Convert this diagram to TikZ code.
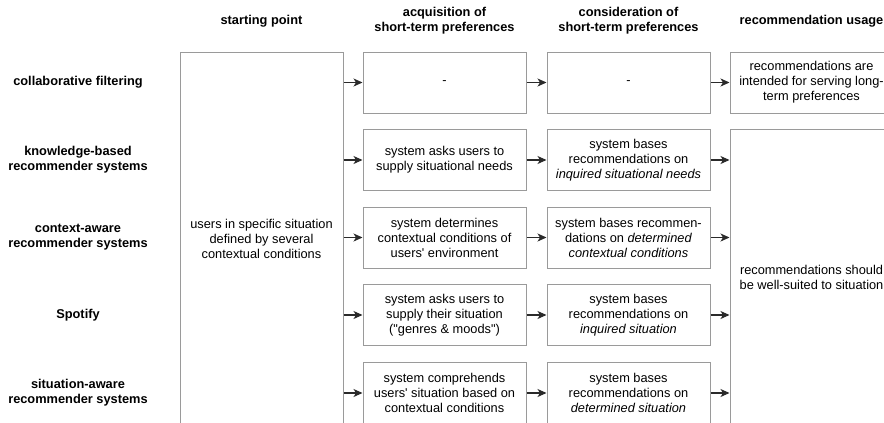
\documentclass[tikz,border=0pt]{standalone}
\usepackage{fontspec}
\setmainfont{Liberation Sans}
\usetikzlibrary{arrows.meta}
\definecolor{boxgray}{HTML}{9A9A9A}
\definecolor{arrgray}{HTML}{2A2A2A}
\newcommand{\ap}{\textquotesingle}
\begin{document}
\begin{tikzpicture}[x=1pt,y=-1pt,
  font=\fontsize{12.8}{15}\selectfont,
  box/.style={draw=boxgray, line width=1pt, minimum width=163pt, minimum height=61pt, align=center, inner sep=0pt},
  arr/.style={draw=arrgray, line width=1.1pt, -{Stealth[length=9pt,width=8pt,inset=2.5pt]}},
  hdr/.style={font=\fontsize{12.8}{15}\selectfont\bfseries, align=center, inner sep=0pt}]
\useasboundingbox (0,0) rectangle (884,423);
\clip (0,0) rectangle (884,423);
% headers
\node[hdr] (h1) at (261.5,21) {starting point};
\node[hdr] (h2) at (444.5,21) {acquisition of\\short-term preferences};
\node[hdr] (h3) at (628.5,21) {consideration of\\short-term preferences};
\node[hdr] (h4) at (811.5,21) {recommendation usage};
% row labels
\node[hdr] (l1) at (78,82.5) {collaborative filtering};
\node[hdr] (l2) at (78,160) {knowledge-based\\recommender systems};
\node[hdr] (l3) at (78,237.5) {context-aware\\recommender systems};
\node[hdr] (l4) at (78,315) {Spotify};
\node[hdr] (l5) at (78,392.5) {situation-aware\\recommender systems};
% starting point
\node[box, minimum height=373pt] (start) at (261.5,238.5) {users in specific situation\\defined by several\\contextual conditions};
% acquisition
\node[box] (a1) at (444.5,82.5) {-};
\node[box] (a2) at (444.5,160) {system asks users to\\supply situational needs};
\node[box] (a3) at (444.5,237.5) {system determines\\contextual conditions of\\users\ap{} environment};
\node[box] (a4) at (444.5,315) {system asks users to\\supply their situation\\(\textquotedbl genres \& moods\textquotedbl)};
\node[box] (a5) at (444.5,393) {system comprehends\\users\ap{} situation based on\\contextual conditions};
% consideration
\node[box] (c1) at (628.5,82.5) {-};
\node[box] (c2) at (628.5,160) {system bases\\recommendations on\\\textit{inquired situational needs}};
\node[box] (c3) at (628.5,237.5) {system bases recommen-\\dations on \textit{determined}\\\textit{contextual conditions}};
\node[box] (c4) at (628.5,315) {system bases\\recommendations on\\\textit{inquired situation}};
\node[box] (c5) at (628.5,393) {system bases\\recommendations on\\\textit{determined situation}};
% usage
\node[box] (r1) at (811.5,82.5) {recommendations are\\intended for serving long-\\term preferences};
\node[box, minimum height=296pt] (r2) at (811.5,277.5) {recommendations should\\be well-suited to situation};
% arrows
\foreach \i in {1,...,5} {
  \draw[arr] (start.east |- a\i.west) -- (a\i.west);
  \draw[arr] (a\i.east) -- (c\i.west);
}
\draw[arr] (c1.east) -- (r1.west);
\foreach \i in {2,...,5} {
  \draw[arr] (c\i.east) -- (r2.west |- c\i.east);
}
\end{tikzpicture}
\end{document}
